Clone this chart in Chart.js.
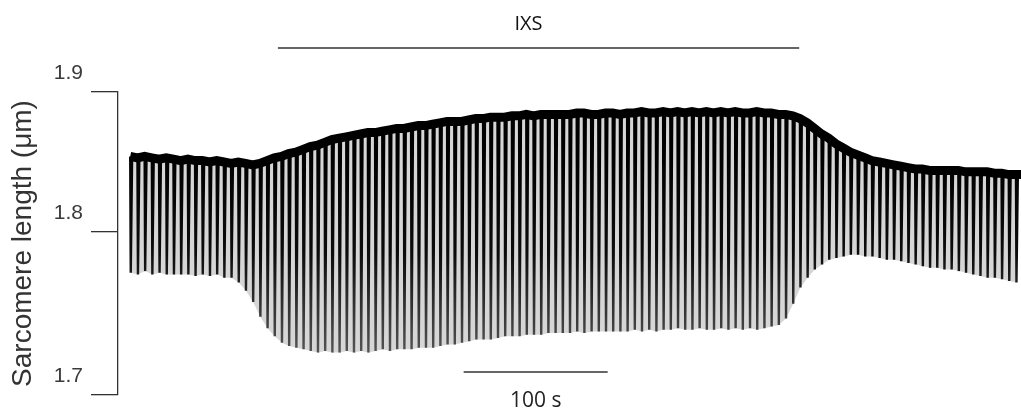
<!DOCTYPE html>
<html>
<head>
<meta charset="utf-8">
<script src="https://cdn.jsdelivr.net/npm/chart.js@4/dist/chart.umd.min.js"></script>
<style>
  html, body { margin: 0; padding: 0; background: #fff; }
  canvas { display: block; }
</style>
</head>
<body>
<canvas id="chart" width="1021" height="417"></canvas>
<script>
// Field-stimulated myocyte, 0.2 Hz pacing: one twitch every 5 s.
const stimPeriod = 5;          // s
const firstStim = 8.5;         // s, first twitch in the record
const recordEnd = 627;         // s, right edge of the trace

// Diastolic (resting) sarcomere length of each beat, µm
const diastolic = [
  1.854, 1.853, 1.854, 1.853, 1.852, 1.853, 1.852, 1.851, 1.852, 1.851,
  1.851, 1.850, 1.851, 1.850, 1.849, 1.850, 1.849, 1.848, 1.849, 1.851,
  1.853, 1.854, 1.856, 1.857, 1.859, 1.861, 1.862, 1.864, 1.866, 1.867,
  1.868, 1.869, 1.870, 1.871, 1.871, 1.872, 1.873, 1.874, 1.874, 1.875,
  1.876, 1.876, 1.877, 1.878, 1.879, 1.879, 1.879, 1.880, 1.881, 1.881,
  1.882, 1.882, 1.882, 1.883, 1.883, 1.884, 1.883, 1.884, 1.884, 1.884,
  1.884, 1.884, 1.885, 1.885, 1.884, 1.884, 1.885, 1.885, 1.884, 1.885,
  1.885, 1.886, 1.885, 1.885, 1.886, 1.885, 1.886, 1.885, 1.886, 1.885,
  1.886, 1.885, 1.886, 1.885, 1.886, 1.885, 1.885, 1.886, 1.885, 1.885,
  1.884, 1.884, 1.883, 1.881, 1.878, 1.874, 1.870, 1.867, 1.863, 1.860,
  1.857, 1.855, 1.853, 1.851, 1.850, 1.849, 1.848, 1.847, 1.846, 1.845,
  1.845, 1.844, 1.844, 1.844, 1.844, 1.844, 1.843, 1.843, 1.843, 1.843,
  1.842, 1.842, 1.841, 1.841
];

// Peak-shortening sarcomere length of each beat, µm
const systolic = [
  1.775, 1.774, 1.776, 1.774, 1.775, 1.774, 1.774, 1.774, 1.774, 1.773,
  1.774, 1.773, 1.774, 1.772, 1.772, 1.769, 1.764, 1.757, 1.748, 1.741,
  1.736, 1.732, 1.730, 1.729, 1.728, 1.727, 1.726, 1.727, 1.726, 1.726,
  1.727, 1.726, 1.727, 1.726, 1.727, 1.728, 1.727, 1.728, 1.728, 1.728,
  1.729, 1.729, 1.729, 1.730, 1.731, 1.731, 1.732, 1.733, 1.734, 1.734,
  1.734, 1.735, 1.736, 1.736, 1.736, 1.737, 1.737, 1.737, 1.738, 1.738,
  1.738, 1.738, 1.739, 1.738, 1.739, 1.739, 1.739, 1.739, 1.739, 1.739,
  1.740, 1.739, 1.740, 1.739, 1.740, 1.740, 1.741, 1.740, 1.740, 1.741,
  1.740, 1.740, 1.741, 1.740, 1.741, 1.740, 1.741, 1.740, 1.741, 1.742,
  1.743, 1.747, 1.756, 1.766, 1.772, 1.777, 1.780, 1.783, 1.784, 1.785,
  1.786, 1.786, 1.785, 1.785, 1.784, 1.783, 1.783, 1.782, 1.781, 1.780,
  1.779, 1.778, 1.778, 1.777, 1.777, 1.776, 1.775, 1.774, 1.773, 1.772,
  1.772, 1.771, 1.770, 1.769
];

// Y-axis tick values, µm
const yTicks = [1.7, 1.8, 1.9];

// IXS perfusion window, s
const ixsStart = 111;
const ixsEnd = 473;

// Time calibration bar, s
const scaleBarStart = 240;
const scaleBarLength = 100;

// Twitch timing: peak shortening and end of relaxation after the stimulus, s
const timeToPeak = 0.35;
const timeToRelax = 1.3;

// ---------------------------------------------------------------------------
// Y axis whose 1.7–1.8 and 1.8–1.9 intervals have their own heights.
class SplitLinearScale extends Chart.LinearScale {
  static id = 'splitLinear';
  static defaults = Chart.LinearScale.defaults;
  _split() {
    const lowerShare = this.options.lowerShare ?? 0.5;
    return { a: yTicks[0], b: yTicks[1], c: yTicks[2], w: lowerShare };
  }
  getPixelForValue(value) {
    if (value === null || value === undefined) return NaN;
    const { a, b, c, w } = this._split();
    const dec = value <= b
      ? (value - a) / (b - a) * w
      : w + (value - b) / (c - b) * (1 - w);
    return this.getPixelForDecimal(dec);
  }
  getValueForPixel(pixel) {
    const { a, b, c, w } = this._split();
    const dec = this.getDecimalForPixel(pixel);
    return dec <= w ? a + dec / w * (b - a) : b + (dec - w) / (1 - w) * (c - b);
  }
}
Chart.register(SplitLinearScale);

const beatTimes = diastolic.map((_, i) => firstStim + i * stimPeriod);

const restingLine = beatTimes.map((t, i) => ({ x: t, y: diastolic[i] }));
restingLine.push({ x: recordEnd, y: diastolic[diastolic.length - 1] });

const peakLine = beatTimes.map((t, i) => ({ x: t + timeToPeak, y: systolic[i] }));

const twitchTrace = [];
beatTimes.forEach((t, i) => {
  twitchTrace.push(
    { x: t, y: diastolic[i] },
    { x: t + timeToPeak, y: systolic[i] },
    { x: t + timeToRelax, y: diastolic[i] }
  );
});
twitchTrace.push({ x: recordEnd, y: diastolic[diastolic.length - 1] });

function spikeColor(context) {
  const { chart } = context;
  const area = chart.chartArea;
  if (!area) return '#000';
  const g = chart.ctx.createLinearGradient(0, area.top + 60, 0, area.bottom - 40);
  g.addColorStop(0, '#000');
  g.addColorStop(0.5, '#0c0c0c');
  g.addColorStop(1, '#555');
  return g;
}

// Perfusion bar and time calibration bar
const markersPlugin = {
  id: 'markers',
  afterDraw(chart) {
    const { ctx } = chart;
    const x = chart.scales.x;
    ctx.save();
    ctx.strokeStyle = '#333';
    ctx.lineWidth = 1.4;
    ctx.beginPath();
    ctx.moveTo(x.getPixelForValue(ixsStart), 48);
    ctx.lineTo(x.getPixelForValue(ixsEnd), 48);
    ctx.stroke();

    ctx.fillStyle = '#111';
    ctx.textAlign = 'center';
    ctx.textBaseline = 'middle';
    ctx.font = '20px "Open Sans"';
    ctx.fillText('IXS', (x.getPixelForValue(ixsStart) + x.getPixelForValue(ixsEnd)) / 2 - 10, 24);

    const sx0 = x.getPixelForValue(scaleBarStart);
    const sx1 = x.getPixelForValue(scaleBarStart + scaleBarLength);
    ctx.beginPath();
    ctx.moveTo(sx0, 372);
    ctx.lineTo(sx1, 372);
    ctx.stroke();
    ctx.fillStyle = '#222';
    ctx.font = '21px "Open Sans"';
    ctx.fillText(scaleBarLength + ' s', (sx0 + sx1) / 2, 401);
    ctx.restore();
  }
};

new Chart(document.getElementById('chart'), {
  type: 'line',
  data: {
    datasets: [
      {
        label: 'resting',
        data: restingLine,
        borderColor: '#000',
        borderWidth: 9,
        borderJoinStyle: 'miter',
        borderCapStyle: 'butt',
        pointRadius: 0,
        fill: false,
        order: 0
      },
      {
        label: 'twitches',
        data: twitchTrace,
        borderColor: spikeColor,
        borderWidth: 2.4,
        pointRadius: 0,
        fill: false,
        order: 1
      },
      {
        label: 'envelope top',
        data: restingLine,
        borderWidth: 0,
        borderColor: 'rgba(0,0,0,0)',
        pointRadius: 0,
        fill: false,
        order: 3
      },
      {
        label: 'envelope bottom',
        data: peakLine,
        borderWidth: 0,
        borderColor: 'rgba(0,0,0,0)',
        backgroundColor: '#d6d6d6',
        pointRadius: 0,
        fill: '-1',
        order: 2
      }
    ]
  },
  options: {
    responsive: false,
    animation: false,
    events: [],
    layout: { padding: { top: 92, bottom: 22, left: 0, right: 0 } },
    plugins: {
      legend: { display: false },
      tooltip: { enabled: false }
    },
    scales: {
      x: {
        type: 'linear',
        min: 0,
        max: recordEnd,
        display: false
      },
      y: {
        type: 'splitLinear',
        min: yTicks[0],
        max: yTicks[2],
        lowerShare: 163 / 303,
        afterBuildTicks: s => { s.ticks = yTicks.map(v => ({ value: v })); },
        afterFit: s => { s.width = 118; },
        ticks: {
          labelOffset: -19,
          padding: 8,
          color: '#3a3a3a',
          font: { family: '"Liberation Sans", Arial, sans-serif', size: 21 },
          callback: v => Number(v).toFixed(1)
        },
        grid: {
          drawOnChartArea: false,
          tickLength: 27,
          color: '#333',
          lineWidth: 1.3
        },
        border: { display: true, color: '#333', width: 1.3 },
        title: {
          display: true,
          text: 'Sarcomere length (μm)',
          color: '#333',
          font: { family: '"Liberation Sans", Arial, sans-serif', size: 28 },
          padding: { top: 6, bottom: 0 }
        }
      }
    }
  },
  plugins: [markersPlugin]
});
</script>
</body>
</html>
